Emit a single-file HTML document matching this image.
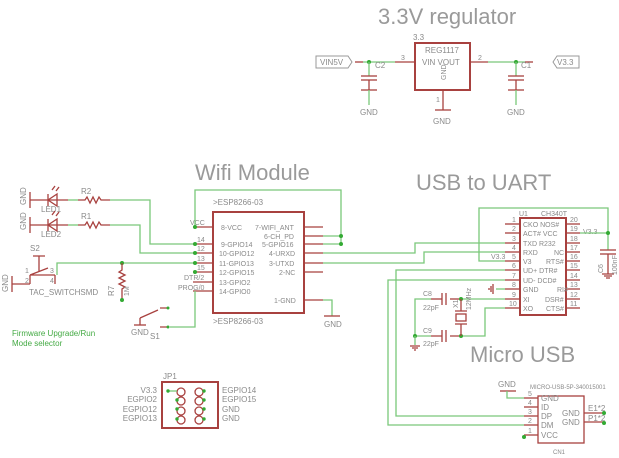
<!DOCTYPE html>
<html><head><meta charset="utf-8"><style>
html,body{margin:0;padding:0;background:#fff;}
svg{display:block;font-family:"Liberation Sans",sans-serif;}
.w{stroke:#7ac87a;stroke-width:1.3;fill:none}
.r{stroke:#a8413f;stroke-width:1.3;fill:none}
.b{stroke:#a8413f;stroke-width:2;fill:none}
.t{fill:#8a8a8a;font-size:8px}
.s{fill:#8a8a8a;font-size:7px}
.h{fill:#9a9a9a;font-size:22px}
.d{fill:#3a3;stroke:none}
</style></head><body>
<svg width="619" height="458" viewBox="0 0 619 458" xmlns="http://www.w3.org/2000/svg">
<!-- Titles -->
<text x="378" y="24" class="h">3.3V regulator</text>
<text x="195" y="180" class="h">Wifi Module</text>
<text x="416" y="190" class="h">USB to UART</text>
<text x="470" y="362" class="h">Micro USB</text>

<!-- Regulator -->
<rect x="415" y="43" width="55" height="47" class="b"/>
<text x="413" y="40" class="t">3.3</text>
<text x="425" y="53" class="t">REG1117</text>
<text x="422" y="65" class="t">VIN  VOUT</text>
<text x="446" y="80" class="s" transform="rotate(-90 446 80)">GND</text>
<line x1="395" y1="62" x2="415" y2="62" class="r"/><text x="401" y="60" class="s">3</text>
<line x1="470" y1="62" x2="488" y2="62" class="r"/><text x="478" y="60" class="s">2</text>
<line x1="443" y1="90" x2="443" y2="110" class="r"/><text x="436" y="102" class="s">1</text>
<line x1="435" y1="110" x2="451" y2="110" class="r"/><text x="433" y="124" class="t">GND</text>
<path d="M316 56 h32 l4 6 l-4 6 h-32z" stroke="#999" fill="none"/><text x="320" y="65" class="t">VIN5V</text>
<path d="M363 62 H395" class="w"/><line x1="355" y1="62" x2="363" y2="62" class="r"/>
<circle cx="369" cy="62" r="2" class="d"/>
<line x1="369" y1="62" x2="369" y2="76" class="w"/>
<line x1="361" y1="76" x2="377" y2="76" class="r" stroke-width="2"/><line x1="361" y1="80" x2="377" y2="80" class="r" stroke-width="2"/>
<line x1="369" y1="80" x2="369" y2="90" class="r"/><line x1="361" y1="90" x2="377" y2="90" class="r"/>
<line x1="369" y1="90" x2="369" y2="105" class="w"/><text x="360" y="115" class="t">GND</text>
<text x="375" y="68" class="t">C2</text>
<path d="M488 62 H525" class="w"/><line x1="525" y1="62" x2="533" y2="62" class="r"/>
<circle cx="516" cy="62" r="2" class="d"/>
<line x1="516" y1="62" x2="516" y2="76" class="w"/>
<line x1="508" y1="76" x2="524" y2="76" class="r" stroke-width="2"/><line x1="508" y1="80" x2="524" y2="80" class="r" stroke-width="2"/>
<line x1="516" y1="80" x2="516" y2="90" class="r"/><line x1="508" y1="90" x2="524" y2="90" class="r"/>
<line x1="516" y1="90" x2="516" y2="105" class="w"/><text x="507" y="115" class="t">GND</text>
<text x="521" y="68" class="t">C1</text>
<path d="M553 62 l4 -6 h22 v12 h-22z" stroke="#999" fill="none"/><text x="557" y="65" class="t">V3.3</text>

<!-- ESP module -->
<rect x="213" y="212" width="91" height="101" class="b"/>
<text x="213" y="205" class="t">&gt;ESP8266-03</text>
<text x="213" y="324" class="t">&gt;ESP8266-03</text>
<g class="r">
<line x1="193" y1="227" x2="213" y2="227"/><line x1="193" y1="244" x2="213" y2="244"/><line x1="193" y1="253" x2="213" y2="253"/><line x1="193" y1="263" x2="213" y2="263"/><line x1="193" y1="272" x2="213" y2="272"/><line x1="193" y1="282" x2="213" y2="282"/><line x1="193" y1="291" x2="213" y2="291"/>
<line x1="304" y1="227" x2="323" y2="227"/><line x1="304" y1="236" x2="323" y2="236"/><line x1="304" y1="244" x2="323" y2="244"/><line x1="304" y1="253" x2="323" y2="253"/><line x1="304" y1="263" x2="323" y2="263"/><line x1="304" y1="272" x2="323" y2="272"/><line x1="304" y1="300" x2="323" y2="300"/>
</g>
<g class="s">
<text x="221" y="230">8-VCC</text><text x="221" y="247">9-GPIO14</text><text x="219" y="256">10-GPIO12</text><text x="219" y="266">11-GPIO13</text><text x="219" y="275">12-GPIO15</text><text x="219" y="285">13-GPIO2</text><text x="219" y="294">14-GPIO0</text>
<text x="255" y="230">7-WIFI_ANT</text><text x="264" y="239">6-CH_PD</text><text x="262" y="247">5-GPIO16</text><text x="269" y="256">4-URXD</text><text x="269" y="266">3-UTXD</text><text x="279" y="275">2-NC</text><text x="274" y="303">1-GND</text>
<text x="190" y="225">VCC</text><text x="197" y="242">14</text><text x="197" y="251">12</text><text x="197" y="261">13</text><text x="197" y="270">15</text><text x="184" y="280">DTR/2</text><text x="178" y="290">PROG/0</text>
</g>
<path d="M195 227 V190 H341 V244 H323" class="w"/><path d="M323 236 H341" class="w"/>
<circle cx="195" cy="227" r="2" class="d"/><circle cx="341" cy="236" r="2" class="d"/><circle cx="341" cy="244" r="2" class="d"/>
<circle cx="195" cy="244" r="2" class="d"/><circle cx="195" cy="253" r="2" class="d"/><circle cx="195" cy="263" r="2" class="d"/><circle cx="195" cy="272" r="2" class="d"/>
<path d="M323 300 H332 V316" class="w"/><line x1="324" y1="316" x2="340" y2="316" class="r"/><text x="324" y="327" class="t">GND</text>
<!-- LEDs -->
<text x="26" y="205" class="t" transform="rotate(-90 26 205)">GND</text>
<text x="26" y="230" class="t" transform="rotate(-90 26 230)">GND</text>
<line x1="30" y1="192" x2="30" y2="208" class="r"/><line x1="30" y1="217" x2="30" y2="233" class="r"/>
<line x1="30" y1="200" x2="68" y2="200" class="r"/><line x1="30" y1="225" x2="68" y2="225" class="r"/>
<path d="M57 194 L48 200 L57 206Z M48 194 V206" class="r"/><path d="M57 219 L48 225 L57 231Z M48 219 V231" class="r"/>
<text x="41" y="212" class="t">LED1</text><text x="41" y="237" class="t">LED2</text>
<path d="M52 190 l3 -4 M56 191 l3 -4 M52 215 l3 -4 M56 216 l3 -4" class="r" stroke-width="1"/>
<line x1="68" y1="200" x2="78" y2="200" class="w"/><line x1="68" y1="225" x2="78" y2="225" class="w"/>
<path d="M78 200 H85 l2 -3 l3 6 l3 -6 l3 6 l3 -6 l2 3 H110" class="r"/>
<path d="M78 225 H85 l2 -3 l3 6 l3 -6 l3 6 l3 -6 l2 3 H110" class="r"/>
<text x="81" y="194" class="t">R2</text><text x="81" y="219" class="t">R1</text>
<path d="M110 200 H150 V244 H193" class="w"/><path d="M110 225 H140 V253 H193" class="w"/>
<!-- S2 -->
<text x="30" y="251" class="t">S2</text>
<text x="8" y="292" class="t" transform="rotate(-90 8 292)">GND</text>
<line x1="12" y1="276" x2="12" y2="292" class="r"/><line x1="12" y1="284" x2="30" y2="284" class="r"/>
<path d="M30 275 H55 M30 284 V275 M30 275 L48 268 M33 256 H45 M39 256 V272 M55 275 V284" class="r"/>
<text x="25" y="273" class="s">1</text><text x="25" y="283" class="s">2</text><text x="50" y="273" class="s">3</text><text x="50" y="283" class="s">4</text>
<path d="M57 275 V263 H193" class="w"/>
<circle cx="122" cy="263" r="2" class="d"/>
<path d="M122 263 V270 l-3 2 l6 3 l-6 3 l6 3 l-6 3 l6 3 l-3 2 V300" class="r"/>
<circle cx="122" cy="300" r="2" class="d"/>
<text x="114" y="296" class="t" transform="rotate(-90 114 296)">R7</text>
<text x="129" y="296" class="s" transform="rotate(-90 129 296)">1M</text>
<text x="29" y="295" class="t">TAC_SWITCHSMD</text>
<!-- S1 -->
<line x1="134" y1="325" x2="146" y2="325" class="r"/><line x1="140" y1="325" x2="140" y2="318" class="r"/>
<path d="M140 318 L158 310 M160 308 h8 M160 327 h8" class="r"/>
<path d="M170 327 H195 V291" class="w"/>
<circle cx="168" cy="308" r="1.5" class="d"/><circle cx="168" cy="327" r="1.5" class="d"/>
<text x="131" y="335" class="t">GND</text><text x="150" y="339" class="t">S1</text>
<text x="12" y="336" fill="#4a4" font-size="8">Firmware Upgrade/Run</text>
<text x="12" y="346" fill="#4a4" font-size="8">Mode selector</text>

<!-- CH340T -->
<rect x="520" y="218" width="46" height="97" class="b"/>
<text x="519" y="216" class="s">U1</text><text x="541" y="216" class="s">CH340T</text>
<g class="r">
<line x1="505" y1="224" x2="520" y2="224"/><line x1="505" y1="233" x2="520" y2="233"/><line x1="505" y1="243" x2="520" y2="243"/><line x1="505" y1="252" x2="520" y2="252"/><line x1="505" y1="261" x2="520" y2="261"/><line x1="505" y1="270" x2="520" y2="270"/><line x1="505" y1="280" x2="520" y2="280"/><line x1="505" y1="289" x2="520" y2="289"/><line x1="505" y1="299" x2="520" y2="299"/><line x1="505" y1="308" x2="520" y2="308"/>
<line x1="566" y1="224" x2="580" y2="224"/><line x1="566" y1="233" x2="580" y2="233"/><line x1="566" y1="243" x2="580" y2="243"/><line x1="566" y1="252" x2="580" y2="252"/><line x1="566" y1="261" x2="580" y2="261"/><line x1="566" y1="270" x2="580" y2="270"/><line x1="566" y1="280" x2="580" y2="280"/><line x1="566" y1="289" x2="580" y2="289"/><line x1="566" y1="299" x2="580" y2="299"/><line x1="566" y1="308" x2="580" y2="308"/>
</g>
<g class="s">
<text x="523" y="227">CKO NOS#</text><text x="523" y="236">ACT# VCC</text><text x="523" y="246">TXD  R232</text><text x="523" y="255">RXD</text><text x="554" y="255">NC</text><text x="523" y="264">V3</text><text x="546" y="264">RTS#</text><text x="523" y="273">UD+ DTR#</text><text x="523" y="283">UD-  DCD#</text><text x="523" y="292">GND</text><text x="557" y="292">RI#</text><text x="523" y="302">XI</text><text x="545" y="302">DSR#</text><text x="523" y="311">XO</text><text x="546" y="311">CTS#</text>
<text x="512" y="222">1</text><text x="512" y="231">2</text><text x="512" y="241">3</text><text x="512" y="250">4</text><text x="512" y="259">5</text><text x="512" y="268">6</text><text x="512" y="278">7</text><text x="512" y="287">8</text><text x="512" y="297">9</text><text x="509" y="306">10</text>
<text x="570" y="222">20</text><text x="570" y="231">19</text><text x="570" y="241">18</text><text x="570" y="250">17</text><text x="570" y="259">16</text><text x="570" y="268">15</text><text x="570" y="278">14</text><text x="570" y="287">13</text><text x="570" y="297">12</text><text x="570" y="306">11</text>
<text x="583" y="234">V3.3</text><text x="491" y="259">V3.3</text>
</g>
<path d="M323 253 H415 V243 H505" class="w"/><path d="M323 263 H424 V252 H505" class="w"/>
<path d="M505 261 H479 V208 H608 V250" class="w"/><path d="M580 233 H608" class="w"/>
<circle cx="608" cy="233" r="2" class="d"/>
<line x1="600" y1="250" x2="616" y2="250" class="r" stroke-width="2"/><line x1="600" y1="254" x2="616" y2="254" class="r" stroke-width="2"/>
<line x1="608" y1="254" x2="608" y2="274" class="r"/><path d="M602 274 h12 M604 276 h8 M606 278 h4" class="r" stroke-width="1"/>
<text x="603" y="273" class="s" transform="rotate(-90 603 273)">C6</text><text x="617" y="275" class="s" transform="rotate(-90 617 275)">100nF</text>
<path d="M505 270 H396 V416 H524" class="w"/><path d="M505 280 H388 V425 H524" class="w"/>
<path d="M505 289 H496" class="w"/><path d="M493 284 v10 M491 286 v6 M489 288 v2" class="r" stroke-width="1"/>
<path d="M505 299 H461" class="w"/><path d="M461 299 H450" class="r"/><path d="M446 293 v12 M442 293 v12" class="r" stroke-width="2"/><path d="M442 299 H431" class="r"/>
<path d="M431 299 H415 V336 H431" class="w"/><path d="M431 336 H442 M450 336 H461" class="r"/><path d="M446 330 v12 M442 330 v12" class="r" stroke-width="2"/>
<path d="M461 336 H485 V308 H505" class="w"/>
<circle cx="461" cy="299" r="2" class="d"/><circle cx="461" cy="336" r="2" class="d"/><circle cx="415" cy="336" r="2" class="d"/>
<path d="M415 336 V345" class="w"/><path d="M410 346 h10 M412 348 h6 M414 350 h2" class="r" stroke-width="1"/>
<path d="M461 299 V311 M461 324 V336 M455 311 h12 M455 324 h12" class="r"/><rect x="456" y="314" width="10" height="7" class="r"/>
<text x="423" y="296" class="s">C8</text><text x="423" y="310" class="s">22pF</text><text x="423" y="333" class="s">C9</text><text x="423" y="346" class="s">22pF</text>
<text x="458" y="308" class="s" transform="rotate(-90 458 308)">X1</text><text x="471" y="310" class="s" transform="rotate(-90 471 310)">12MHz</text>

<!-- USB -->
<rect x="538" y="396" width="46" height="47" class="r"/>
<text x="530" y="389" font-size="6" fill="#8a8a8a">MICRO-USB-5P-340015001</text>
<g class="r"><line x1="524" y1="398" x2="538" y2="398"/><line x1="524" y1="407" x2="538" y2="407"/><line x1="524" y1="416" x2="538" y2="416"/><line x1="524" y1="425" x2="538" y2="425"/><line x1="524" y1="435" x2="538" y2="435"/><line x1="584" y1="413" x2="604" y2="413"/><line x1="584" y1="422" x2="604" y2="422"/></g>
<g class="t"><text x="541" y="401">GND</text><text x="541" y="410">ID</text><text x="541" y="419">DP</text><text x="541" y="428">DM</text><text x="541" y="438">VCC</text><text x="562" y="416">GND</text><text x="562" y="425">GND</text><text x="588" y="411">E1*2</text><text x="588" y="421">P1*2</text><text x="553" y="454" font-size="6">CN1</text><text x="498" y="387">GND</text></g>
<g class="s"><text x="528" y="396">5</text><text x="528" y="405">4</text><text x="528" y="414">3</text><text x="528" y="423">2</text><text x="528" y="433">1</text></g>
<path d="M500 391 h16" class="r"/><path d="M507 391 V398 H524" class="w"/>
<circle cx="604" cy="413" r="2" class="d"/><circle cx="604" cy="423" r="2" class="d"/><circle cx="524" cy="437" r="2" class="d"/>

<!-- JP1 -->
<rect x="162" y="382" width="56" height="46" class="b"/>
<text x="163" y="379" class="t">JP1</text>
<g class="r" stroke-width="1">
<circle cx="181" cy="392" r="4"/><circle cx="181" cy="401" r="4"/><circle cx="181" cy="411" r="4"/><circle cx="181" cy="420" r="4"/>
<circle cx="199" cy="392" r="4"/><circle cx="199" cy="401" r="4"/><circle cx="199" cy="411" r="4"/><circle cx="199" cy="420" r="4"/>
</g>
<line x1="168" y1="391" x2="177" y2="391" class="w"/>
<g class="d"><circle cx="168" cy="391" r="1.7"/><circle cx="177" cy="400" r="1.7"/><circle cx="177" cy="409" r="1.7"/><circle cx="177" cy="419" r="1.7"/><circle cx="204" cy="391" r="1.7"/><circle cx="204" cy="400" r="1.7"/><circle cx="204" cy="409" r="1.7"/><circle cx="204" cy="419" r="1.7"/></g>
<g class="t" text-anchor="end"><text x="157" y="393">V3.3</text><text x="157" y="402">EGPIO2</text><text x="157" y="412">EGPIO12</text><text x="157" y="421">EGPIO13</text></g>
<g class="t"><text x="222" y="393">EGPIO14</text><text x="222" y="402">EGPIO15</text><text x="222" y="412">GND</text><text x="222" y="421">GND</text></g>
</svg>
</body></html>
